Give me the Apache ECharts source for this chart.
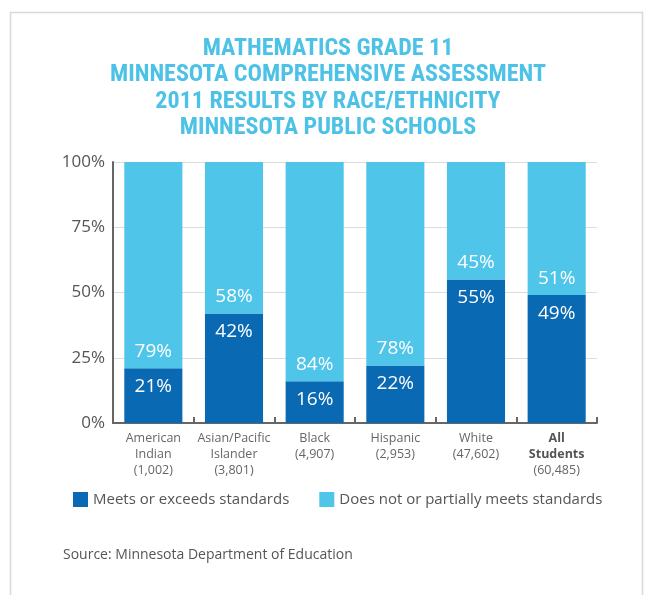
<!DOCTYPE html>
<html><head><meta charset="utf-8">
<script src="https://cdn.jsdelivr.net/npm/echarts@6/dist/echarts.min.js"></script>
<style>html,body{margin:0;padding:0;background:#fff}#c{width:647px;height:595px}</style>
</head><body><div id="c"></div>
<script>
var categories = ['American\nIndian\n(1,002)', 'Asian/Pacific\nIslander\n(3,801)', 'Black\n(4,907)', 'Hispanic\n(2,953)', 'White\n(47,602)', 'All\nStudents\n(60,485)'];
var meets = [21, 42, 16, 22, 55, 49];
var notMeets = [79, 58, 84, 78, 45, 51];
var yTicks = ['0%', '25%', '50%', '75%', '100%'];
var titleLines = ['MATHEMATICS GRADE 11', 'MINNESOTA COMPREHENSIVE ASSESSMENT', '2011 RESULTS BY RACE/ETHNICITY', 'MINNESOTA PUBLIC SCHOOLS'];

var DARK = '#0a69b3', LIGHT = '#4ec5e9';
var chart = echarts.init(document.getElementById('c'), null, {renderer: 'canvas'});
chart.setOption({
  animation: false,
  backgroundColor: '#fff',
  graphic: [
    {type: 'rect', shape: {x: 10.5, y: 12.5, width: 632, height: 600}, style: {fill: 'none', stroke: '#d8d8d8', lineWidth: 1.5}, z: -1},
    {type: 'text', x: 328, y: 36, style: {text: titleLines.join('\n'), align: 'center', verticalAlign: 'top', fontFamily: 'Roboto Condensed, Liberation Sans Narrow, Arial Narrow, Roboto, sans-serif', fontWeight: 'bold', fontSize: 24, fill: '#4cc2e6', lineHeight: 26.3}},
    {type: 'text', left: 63, top: 548, style: {text: 'Source: Minnesota Department of Education', fontFamily: 'Open Sans, sans-serif', fontSize: 14, fill: '#555'}}
  ],
  legend: {
    left: 68, top: 487, itemWidth: 15, itemHeight: 15, itemGap: 30, icon: 'rect',
    textStyle: {fontFamily: 'Open Sans, sans-serif', fontSize: 15, color: '#555'},
    data: ['Meets or exceeds standards', 'Does not or partially meets standards']
  },
  grid: {left: 113, right: 50, top: 162, bottom: 172},
  xAxis: {
    type: 'category', data: categories,
    axisLine: {lineStyle: {color: '#666', width: 2}},
    axisTick: {show: true, length: 6, inside: true, lineStyle: {color: '#666', width: 2}},
    axisLabel: {
      margin: 7, interval: 0, fontFamily: 'Open Sans, sans-serif', fontSize: 12.5, color: '#666', lineHeight: 16,
      formatter: function (v) {
        if (v.indexOf('All') === 0) { var p = v.split('\n'); return '{b|' + p[0] + '}\n{b|' + p[1] + '}\n' + p[2]; }
        return v;
      },
      rich: {b: {fontWeight: 'bold', color: '#555', fontSize: 12.5, lineHeight: 16, fontFamily: 'Open Sans, sans-serif'}}
    }
  },
  yAxis: {
    type: 'value', min: 0, max: 100, interval: 25,
    axisLine: {show: true, lineStyle: {color: '#666', width: 2}},
    axisTick: {show: false},
    splitLine: {lineStyle: {color: '#dcdcdc', width: 1}},
    axisLabel: {
      margin: 8, fontFamily: 'Open Sans, sans-serif', fontSize: 17, color: '#555',
      formatter: function (v) { return yTicks[Math.round(v / 25)]; }
    }
  },
  series: [
    {
      name: 'Meets or exceeds standards', type: 'bar', stack: 's', data: meets, barWidth: '72%',
      itemStyle: {color: DARK},
      label: {show: true, position: 'insideTop', distance: 9, formatter: '{c}%', color: '#fff', fontSize: 19, fontFamily: 'Open Sans, sans-serif'}
    },
    {
      name: 'Does not or partially meets standards', type: 'bar', stack: 's', data: notMeets, barWidth: '72%',
      itemStyle: {color: LIGHT},
      label: {show: true, position: 'insideBottom', distance: 7, formatter: '{c}%', color: '#fff', fontSize: 19, fontFamily: 'Open Sans, sans-serif'}
    }
  ]
});
</script></body></html>
